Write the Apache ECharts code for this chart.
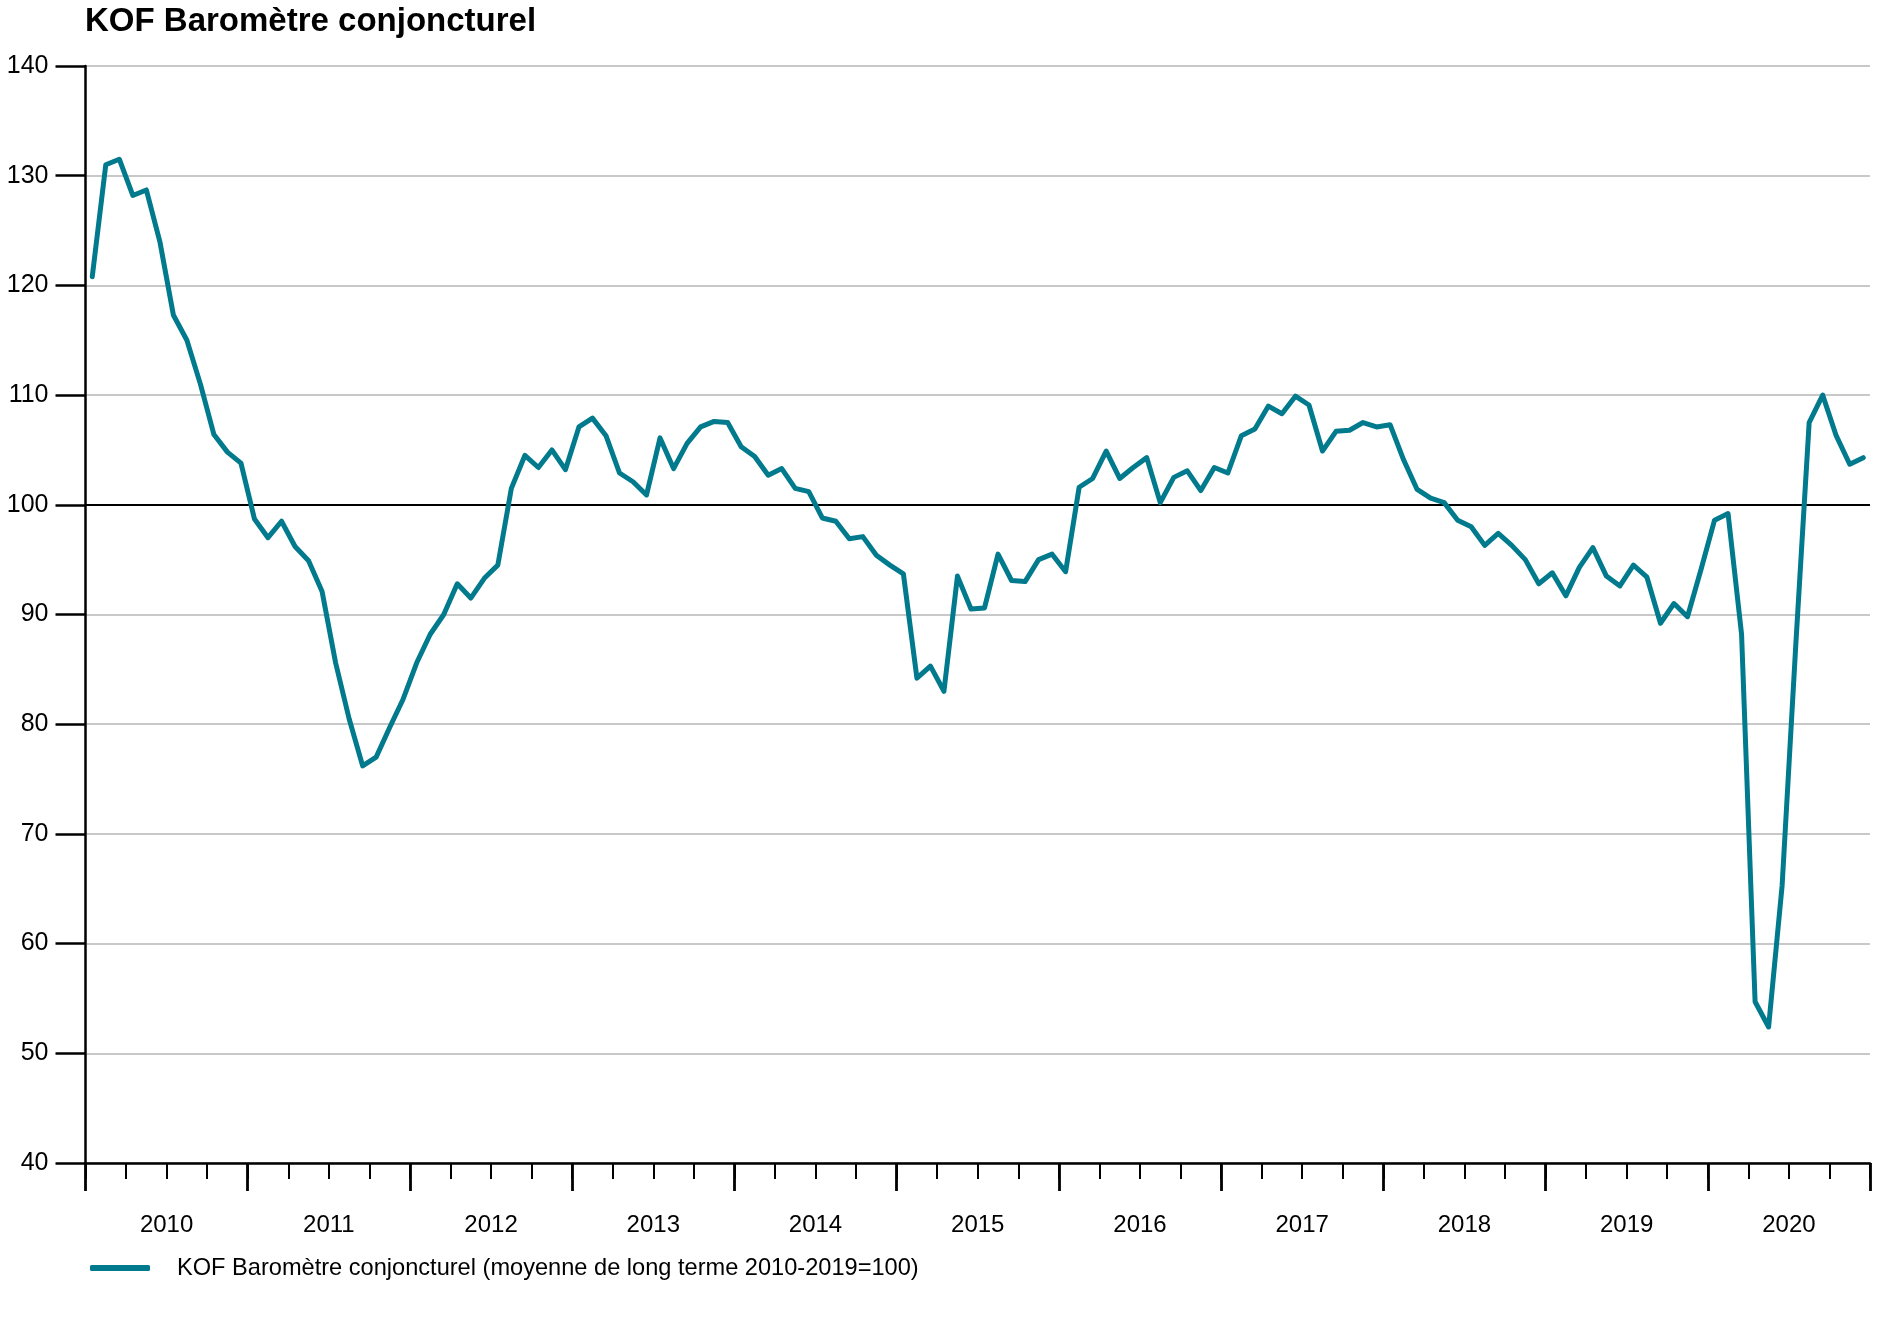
<!DOCTYPE html>
<html>
<head>
<meta charset="utf-8">
<script src="https://cdn.jsdelivr.net/npm/echarts@6/dist/echarts.min.js"></script>
<style>
html,body{margin:0;padding:0;background:#fff;}
#chart{width:1888px;height:1322px;}
</style>
</head>
<body>
<div id="chart"></div>
<script>
// Year tick labels
const years = ['2010','2011','2012','2013','2014','2015','2016','2017','2018','2019','2020'];
// Monthly values, Jan..Dec, per year
const v2010 = [120.8, 131.0, 131.5, 128.2, 128.7, 124.0, 117.3, 115.0, 111.0, 106.4, 104.8, 103.8];
const v2011 = [98.7, 97.0, 98.5, 96.2, 94.9, 92.1, 85.6, 80.5, 76.2, 77.0, 79.7, 82.3];
const v2012 = [85.6, 88.2, 90.0, 92.8, 91.5, 93.3, 94.5, 101.5, 104.5, 103.4, 105.0, 103.2];
const v2013 = [107.1, 107.9, 106.3, 102.9, 102.1, 100.9, 106.1, 103.3, 105.6, 107.1, 107.6, 107.5];
const v2014 = [105.3, 104.4, 102.7, 103.3, 101.5, 101.2, 98.8, 98.5, 96.9, 97.1, 95.4, 94.5];
const v2015 = [93.7, 84.2, 85.3, 83.0, 93.5, 90.5, 90.6, 95.5, 93.1, 93.0, 95.0, 95.5];
const v2016 = [93.9, 101.6, 102.4, 104.9, 102.4, 103.4, 104.3, 100.2, 102.5, 103.1, 101.3, 103.4];
const v2017 = [102.9, 106.3, 106.9, 109.0, 108.3, 109.9, 109.1, 104.9, 106.7, 106.8, 107.5, 107.1];
const v2018 = [107.3, 104.1, 101.4, 100.6, 100.2, 98.6, 98.0, 96.3, 97.4, 96.3, 95.0, 92.8];
const v2019 = [93.8, 91.7, 94.3, 96.1, 93.5, 92.6, 94.5, 93.4, 89.2, 91.0, 89.8, 94.1];
const v2020 = [98.6, 99.2, 88.2, 54.7, 52.4, 65.3, 87.0, 107.5, 110.0, 106.3, 103.7, 104.3];

const seriesName = 'KOF Baromètre conjoncturel (moyenne de long terme 2010-2019=100)';
const titleText = 'KOF Baromètre conjoncturel';

const allValues = [].concat(v2010, v2011, v2012, v2013, v2014, v2015, v2016, v2017, v2018, v2019, v2020);
const points = allValues.map((v, i) => [i + 0.5, v]);

const FONT = '"Liberation Sans", Arial, Helvetica, sans-serif';
const gridColors = [];
for (let k = 40; k <= 140; k += 10) gridColors.push(k === 100 ? '#000000' : '#c8c8c8');

const chart = echarts.init(document.getElementById('chart'), null, {renderer: 'canvas'});
chart.setOption({
  backgroundColor: '#ffffff',
  animation: false,
  title: {
    text: titleText,
    left: 80, top: 0,
    textStyle: {fontFamily: FONT, fontSize: 33, fontWeight: 'bold', color: '#000'}
  },
  legend: {
    left: 85, top: 1251,
    icon: 'roundRect',
    itemWidth: 60, itemHeight: 6,
    textStyle: {fontFamily: FONT, fontSize: 23.6, color: '#000', padding: [0, 0, 0, 22]},
    data: [seriesName]
  },
  grid: {left: 85.5, right: 18, top: 66, bottom: 159, containLabel: false},
  xAxis: [
    {
      type: 'value', min: 0, max: 132, interval: 3,
      axisLine: {show: true, lineStyle: {color: '#000', width: 2.5}},
      axisTick: {show: true, length: 16, lineStyle: {color: '#000', width: 2}},
      axisLabel: {show: false},
      splitLine: {show: false}
    },
    {
      type: 'value', min: 0, max: 132, interval: 12, position: 'bottom',
      axisLine: {show: false},
      axisTick: {show: true, length: 28, lineStyle: {color: '#000', width: 2.8}},
      axisLabel: {show: false},
      splitLine: {show: false}
    },
    {
      type: 'value', min: 0, max: 132, interval: 6, position: 'bottom',
      axisLine: {show: false},
      axisTick: {show: false},
      axisLabel: {
        show: true, margin: 50,
        fontFamily: FONT, fontSize: 24, color: '#000',
        formatter: function (v) { return (v % 12 === 6) ? years[(v - 6) / 12] : ''; }
      },
      splitLine: {show: false}
    }
  ],
  yAxis: {
    type: 'value', min: 40, max: 140, interval: 10,
    axisLine: {show: true, lineStyle: {color: '#000', width: 2.5}},
    axisTick: {show: true, length: 30, lineStyle: {color: '#000', width: 2.5}},
    axisLabel: {fontFamily: FONT, fontSize: 25, color: '#000', margin: 37},
    splitLine: {show: true, lineStyle: {color: gridColors, width: 2}}
  },
  series: [{
    name: seriesName,
    type: 'line',
    xAxisIndex: 0,
    data: points,
    showSymbol: false,
    symbol: 'none',
    color: '#007a8c',
    lineStyle: {color: '#007a8c', width: 5, join: 'round', cap: 'round'},
    z: 5
  }]
});
</script>
</body>
</html>
